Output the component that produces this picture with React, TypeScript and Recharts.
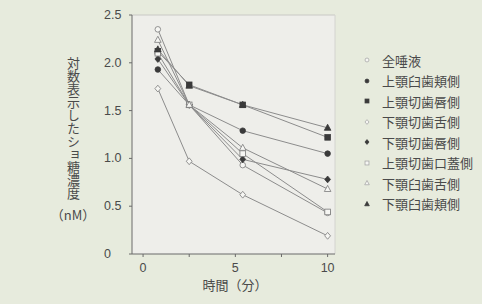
import React from "react";
import {
  LineChart,
  Line,
  XAxis,
  YAxis,
  CartesianGrid,
  ReferenceLine,
} from "recharts";

const times = [0.8, 2.5, 5.4, 10];
const seriesNames = [
  "全唾液",
  "上顎臼歯頬側",
  "上顎切歯唇側",
  "下顎切歯舌側",
  "下顎切歯唇側",
  "上顎切歯口蓋側",
  "下顎臼歯舌側",
  "下顎臼歯頬側",
];
const s0 = [2.35, 1.56, 0.93, 0.43];
const s1 = [1.93, 1.56, 1.29, 1.05];
const s2 = [2.12, 1.77, 1.56, 1.22];
const s3 = [1.73, 0.97, 0.62, 0.19];
const s4 = [2.04, 1.56, 0.99, 0.78];
const s5 = [2.1, 1.56, 1.05, 0.44];
const s6 = [2.24, 1.56, 1.11, 0.68];
const s7 = [2.14, 1.76, 1.56, 1.32];
const seriesValues = [s0, s1, s2, s3, s4, s5, s6, s7];
const yTicks = [0, 0.5, 1.0, 1.5, 2.0, 2.5];
const yTickLabels = ["0", "0.5", "1.0", "1.5", "2.0", "2.5"];
const xTicks = [0, 2.5, 5, 7.5, 10];
const xTickLabels = ["0", "", "5", "", "10"];

type Shape = "circle" | "square" | "diamond" | "triangle";
const markerShapes: Shape[] = [
  "circle",
  "circle",
  "square",
  "diamond",
  "diamond",
  "square",
  "triangle",
  "triangle",
];
const markerFilled = [false, true, true, false, true, false, false, true];

const FILL = "#3a3a3a";
const OPEN_FILL = "#f6f6f3";
const OPEN_STROKE = "#7a7a7a";
const LINE = "#8c8c8c";
const TEXT = "#4a4a4a";
const JP = "'Noto Sans CJK JP', 'Noto Sans', sans-serif";
const NUM = "'Liberation Sans', Arial, sans-serif";

const data = times.map((t, i) => {
  const row: Record<string, number> = { t };
  seriesValues.forEach((s, k) => {
    row["s" + k] = s[i];
  });
  return row;
});

function Marker({
  shape,
  filled,
  cx,
  cy,
  s = 1,
  light = false,
}: {
  shape: Shape;
  filled: boolean;
  cx: number;
  cy: number;
  s?: number;
  light?: boolean;
}) {
  const fill = filled ? FILL : OPEN_FILL;
  const stroke = filled ? FILL : light ? "#a8a8a8" : OPEN_STROKE;
  const sw = 0.8;
  if (shape === "circle")
    return <circle cx={cx} cy={cy} r={2.8 * s} fill={fill} stroke={stroke} strokeWidth={sw} />;
  if (shape === "square")
    return (
      <rect
        x={cx - 2.8 * s}
        y={cy - 2.8 * s}
        width={5.6 * s}
        height={5.6 * s}
        fill={fill}
        stroke={stroke}
        strokeWidth={sw}
      />
    );
  if (shape === "diamond")
    return (
      <polygon
        points={`${cx},${cy - 3.4 * s} ${cx + 2.9 * s},${cy} ${cx},${cy + 3.4 * s} ${cx - 2.9 * s},${cy}`}
        fill={fill}
        stroke={stroke}
        strokeWidth={sw}
      />
    );
  return (
    <polygon
      points={`${cx},${cy - 3.6 * s} ${cx + 3.3 * s},${cy + 2.5 * s} ${cx - 3.3 * s},${cy + 2.5 * s}`}
      fill={fill}
      stroke={stroke}
      strokeWidth={sw}
    />
  );
}

const YTick = (props: any) => {
  const { y, payload } = props;
  const idx = yTicks.indexOf(payload.value);
  return (
    <text
      x={104}
      y={y}
      textAnchor="start"
      dominantBaseline="central"
      fontFamily={NUM}
      fontSize={12.5}
      fill={TEXT}
    >
      {yTickLabels[idx]}
    </text>
  );
};

const XTick = (props: any) => {
  const { x, payload } = props;
  const idx = xTicks.indexOf(payload.value);
  return (
    <text
      x={x}
      y={268}
      textAnchor="middle"
      dominantBaseline="central"
      fontFamily={NUM}
      fontSize={12.5}
      fill={TEXT}
    >
      {xTickLabels[idx]}
    </text>
  );
};

export default function App() {
  return (
    <div
      style={{
        position: "absolute",
        left: 0,
        top: 0,
        width: 482,
        height: 304,
        background: "#e7ebdd",
        overflow: "hidden",
      }}
    >
      <LineChart
        width={482}
        height={304}
        data={data}
        margin={{ top: 15, right: 147, bottom: 20, left: 100 }}
      >
        <CartesianGrid horizontal={false} vertical={false} fill="#eeeeea" />
        <ReferenceLine y={2.5} stroke="#c8c8c4" strokeWidth={1} />
        <ReferenceLine x={10.4} stroke="#d4d4d0" strokeWidth={1} />
        <XAxis
          type="number"
          dataKey="t"
          domain={[-0.6, 10.4]}
          ticks={xTicks}
          height={30}
          tick={<XTick />}
          tickSize={3}
          stroke="#6a6a6a"
          allowDataOverflow
        />
        <YAxis
          type="number"
          domain={[0, 2.5]}
          ticks={yTicks}
          width={32}
          tick={<YTick />}
          tickSize={3}
          stroke="#6a6a6a"
          allowDataOverflow
        />
        {seriesValues.map((_, k) => (
          <Line
            key={k}
            type="linear"
            dataKey={"s" + k}
            name={seriesNames[k]}
            stroke={LINE}
            strokeWidth={1}
            isAnimationActive={false}
            dot={(p: any) => (
              <Marker
                key={`d${k}-${p.index}`}
                shape={markerShapes[k]}
                filled={markerFilled[k]}
                cx={p.cx}
                cy={p.cy}
              />
            )}
            activeDot={false}
          />
        ))}
      </LineChart>

      {/* Y axis title */}
      <div
        style={{
          position: "absolute",
          left: 65,
          top: 57,
          writingMode: "vertical-rl",
          fontFamily: JP,
          fontSize: 13,
          lineHeight: "16px",
          color: TEXT,
          whiteSpace: "nowrap",
        }}
      >
        対数表示したショ糖濃度
      </div>
      <div
        style={{
          position: "absolute",
          left: 43,
          width: 60,
          top: 206,
          textAlign: "center",
          fontFamily: JP,
          fontSize: 13,
          lineHeight: "18px",
          color: TEXT,
          whiteSpace: "nowrap",
        }}
      >
        （nM）
      </div>

      {/* X axis title */}
      <div
        style={{
          position: "absolute",
          left: 175,
          width: 120,
          top: 276,
          textAlign: "center",
          fontFamily: JP,
          fontSize: 13,
          lineHeight: "18px",
          color: TEXT,
          whiteSpace: "nowrap",
        }}
      >
        時間（分）
      </div>

      {/* Legend */}
      <div style={{ position: "absolute", left: 359, top: 50 }}>
        {seriesNames.map((n, k) => (
          <div
            key={k}
            style={{
              display: "flex",
              alignItems: "center",
              height: 20.5,
            }}
          >
            <svg width={16} height={14} style={{ display: "block" }}>
              <Marker
                shape={markerShapes[k]}
                filled={markerFilled[k]}
                cx={8}
                cy={7}
                s={0.7}
                light
              />
            </svg>
            <span
              style={{
                marginLeft: 7,
                fontFamily: JP,
                fontSize: 13,
                color: TEXT,
                whiteSpace: "nowrap",
              }}
            >
              {n}
            </span>
          </div>
        ))}
      </div>
    </div>
  );
}
